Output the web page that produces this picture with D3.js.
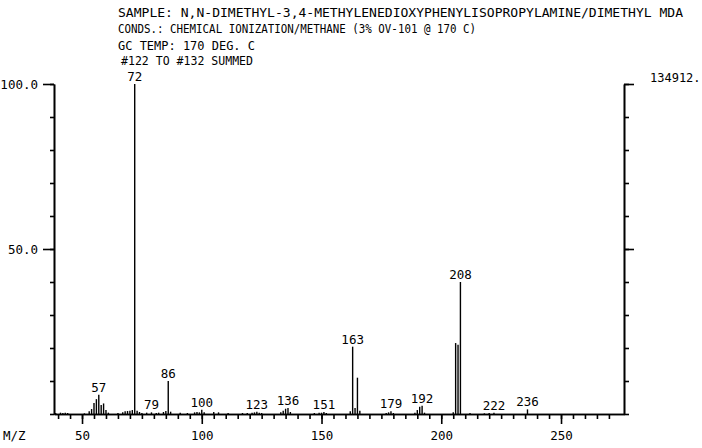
<!DOCTYPE html>
<html>
<head>
<meta charset="utf-8">
<script src="https://cdn.jsdelivr.net/npm/d3@7"></script>
<style>
  html, body { margin: 0; padding: 0; background: #fff; }
  svg text { font-family: "DejaVu Sans Mono", monospace; fill: #000; }
</style>
</head>
<body>
<svg id="chart" width="702" height="448"></svg>
<script>
// CI mass spectrum of N,N-dimethyl-MDA (summed scans #122-#132)
const headerLines = [
  "SAMPLE: N,N-DIMETHYL-3,4-METHYLENEDIOXYPHENYLISOPROPYLAMINE/DIMETHYL MDA",
  "CONDS.: CHEMICAL IONIZATION/METHANE (3% OV-101 @ 170 C)",
  "GC TEMP: 170 DEG. C",
  "#122 TO #132 SUMMED"
];
const headerWidths = [565, 358, 137, 132];

// m/z and relative intensity (% of base peak)
const mz = [39, 41, 42, 43, 44, 51, 53, 54, 55, 56, 57, 58, 59, 60, 61,
  65, 67, 68, 69, 70, 71, 72, 73, 74, 75, 77, 79, 81, 82, 84, 85, 86, 87,
  91, 94, 97, 98, 99, 100, 101, 105, 107, 111, 117, 119, 121, 122, 123, 124, 125,
  133, 134, 135, 136, 137, 147, 149, 150, 151, 152,
  162, 163, 164, 165, 166, 177, 178, 179, 180,
  189, 190, 191, 192, 193, 205, 206, 207, 208, 212, 218, 220, 222, 236];
const intensity = [0.3, 0.4, 0.3, 0.4, 0.3, 0.2, 0.8, 1.5, 3.3, 4.5, 5.8, 2.7, 3.2, 1.2, 0.4,
  0.3, 0.5, 0.8, 0.9, 1.0, 1.2, 100, 1.0, 0.6, 0.3, 0.4, 0.5, 0.3, 0.4, 0.6, 0.9, 10.0, 0.7,
  0.4, 0.3, 0.5, 0.6, 0.5, 1.3, 0.5, 0.6, 0.5, 0.3, 0.3, 0.3, 0.4, 0.5, 0.7, 0.4, 0.3,
  0.5, 1.0, 1.6, 1.8, 0.6, 0.3, 0.4, 0.4, 0.6, 0.3,
  0.8, 20.4, 1.8, 11.0, 1.0, 0.3, 0.5, 0.8, 0.3,
  0.4, 1.2, 2.2, 2.5, 0.4, 0.5, 21.5, 21.0, 40.0, 0.3, 0.2, 0.3, 0.4, 1.4];

// peaks that carry an m/z annotation
const labeledMz = [57, 72, 79, 86, 100, 123, 136, 151, 163, 179, 192, 208, 222, 236];

const xMajorTicks = [50, 100, 150, 200, 250];
const xMinorTicks = d3.range(40, 271, 5);
const yMajorTicks = [50, 100];
const yMinorTicks = d3.range(0, 101, 10);
const fullScaleCount = "134912.";
const xAxisTitle = "M/Z";

const peaks = mz.map((m, i) => ({ mz: m, v: intensity[i] }));

const svg = d3.select("#chart");
const x = d3.scaleLinear().domain([38.3, 276.3]).range([54, 624]);
const y = d3.scaleLinear().domain([0, 100]).range([414, 84]);

// header block
svg.append("g").selectAll("text").data(headerLines).join("text")
  .attr("x", (d, i) => i === 3 ? 121 : 118)
  .attr("y", (d, i) => [17, 33, 50, 65][i])
  .attr("font-size", 12.5)
  .attr("textLength", (d, i) => headerWidths[i])
  .attr("lengthAdjust", "spacingAndGlyphs")
  .text(d => d);

// bottom axis: minor and major ticks
svg.append("g").attr("transform", `translate(0,${y(0)})`)
  .call(d3.axisBottom(x).tickValues(xMinorTicks).tickSize(5).tickSizeOuter(0).tickFormat(""));
const gxMajor = svg.append("g").attr("transform", `translate(0,${y(0)})`)
  .call(d3.axisBottom(x).tickValues(xMajorTicks).tickSize(10).tickSizeOuter(0).tickPadding(7));
gxMajor.selectAll("text").attr("font-size", 12.5).style("font-family", "DejaVu Sans Mono");

// left axis
svg.append("g").attr("transform", `translate(${x.range()[0]},0)`)
  .call(d3.axisLeft(y).tickValues(yMinorTicks).tickSize(4).tickSizeOuter(0).tickFormat(""));
const gyMajor = svg.append("g").attr("transform", `translate(${x.range()[0]},0)`)
  .call(d3.axisLeft(y).tickValues(yMajorTicks).tickSize(11).tickSizeOuter(0).tickPadding(5)
    .tickFormat(d3.format(".1f")));
gyMajor.selectAll("text").attr("font-size", 12.5).style("font-family", "DejaVu Sans Mono");

// right axis
svg.append("g").attr("transform", `translate(${x.range()[1]},0)`)
  .call(d3.axisRight(y).tickValues(yMinorTicks).tickSize(5).tickSizeOuter(0).tickFormat(""));
svg.append("g").attr("transform", `translate(${x.range()[1]},0)`)
  .call(d3.axisRight(y).tickValues(yMajorTicks).tickSize(10).tickSizeOuter(0).tickFormat(""));

svg.selectAll(".domain, .tick line").attr("stroke", "#000").attr("stroke-width", 1.6);

// full-scale ion count and axis title
svg.append("text").attr("x", 650).attr("y", 82).attr("font-size", 12).text(fullScaleCount);
svg.append("text").attr("x", 3).attr("y", 440).attr("font-size", 12.5).text(xAxisTitle);

// spectrum sticks
svg.append("g").selectAll("line").data(peaks).join("line")
  .attr("x1", d => x(d.mz)).attr("x2", d => x(d.mz))
  .attr("y1", y(0)).attr("y2", d => y(d.v))
  .attr("stroke", "#000").attr("stroke-width", 1.4);

// m/z annotations
svg.append("g").selectAll("text").data(peaks.filter(p => labeledMz.includes(p.mz))).join("text")
  .attr("x", d => x(d.mz)).attr("y", d => y(d.v) - 3)
  .attr("text-anchor", "middle").attr("font-size", 12.5)
  .text(d => d.mz);
</script>
</body>
</html>
